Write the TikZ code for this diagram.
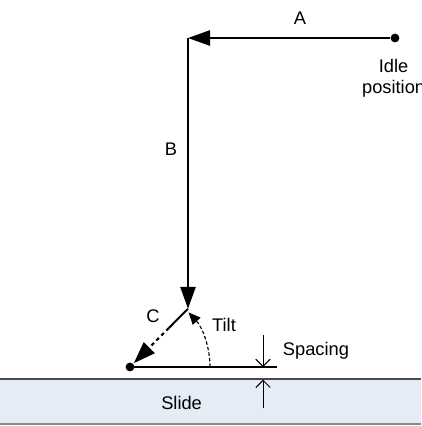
\documentclass[tikz,border=0pt]{standalone}
\usepackage{fontspec}
\setmainfont{Liberation Sans}
\usetikzlibrary{arrows.meta, calc}
\definecolor{cslide}{HTML}{E5ECF6}
\definecolor{cedge}{HTML}{4A4A4A}
\definecolor{cedgel}{HTML}{8A8A8A}
\tikzset{
  every picture/.style={font=\fontsize{13}{15}\selectfont, line width=1.4pt},
  move/.style={-{Triangle[length=5.5mm, width=3.8mm]}, line width=1.5pt},
  dot/.style={circle, fill, inner sep=0pt, minimum size=2.2mm},
  lbl/.style={anchor=base, inner sep=0pt},
  gap/.style={-{Straight Barb[length=1.8mm, width=3.6mm]}, line width=0.7pt},
}

\begin{document}
\begin{tikzpicture}
  \useasboundingbox (0,0) rectangle (10.525,-10.65);
  % slide
  \fill[cslide] (0,-9.475) rectangle (10.525,-10.6);
  \draw[cedge, line width=1pt] (0,-9.475) -- (10.525,-9.475);
  \draw[cedgel, line width=0.8pt] (0,-10.6) -- (10.525,-10.6);
  \node[lbl] (slidelbl) at (4.54,-10.225) {Slide};
  % path of the head
  \node[dot] (idle) at (9.875,-0.95) {};
  \coordinate (corner) at (4.7,-0.95);
  \coordinate (tilt) at (4.7,-7.72);
  \node[dot] (touch) at (3.25,-9.175) {};
  \draw[move] (idle) -- (corner);
  \draw[move] (corner) -- (tilt);
  \draw (tilt) -- ($(tilt)!0.33!(touch)$) coordinate (cmid);
  \draw[move, dash pattern=on 2.5pt off 2.5pt] (cmid) -- (touch);
  \node[lbl] (lblA) at (7.5,-0.6) {A};
  \node[lbl] (lblB) at (4.275,-3.875) {B};
  \node[lbl] (lblC) at (3.825,-8.05) {C};
  \node[anchor=north, align=center, inner sep=0pt] (idlelbl) at (9.84,-1.45) {Idle\\position};
  % tilt angle
  \coordinate (baseend) at (6.925,-9.175);
  \draw[line width=1pt] (touch.center) -- (baseend);
  \draw[dash pattern=on 2.5pt off 1.5pt, line width=0.8pt, -{Triangle[length=3mm, width=2.6mm]}]
    ($(touch.center)+(2,0)$) arc[start angle=0, end angle=43, radius=2];
  \node[lbl] (lbltilt) at (5.6,-8.275) {Tilt};
  % spacing
  \coordinate (gtop) at (6.575,-8.375);
  \coordinate (gline) at (6.575,-9.175);
  \coordinate (gslide) at (6.575,-9.49);
  \coordinate (gbot) at (6.575,-10.2);
  \draw[gap] (gtop) -- (gline);
  \draw[gap] (gbot) -- (gslide);
  \node[lbl, anchor=base west] (lblsp) at (7.05,-8.8875) {Spacing};
\end{tikzpicture}
\end{document}
